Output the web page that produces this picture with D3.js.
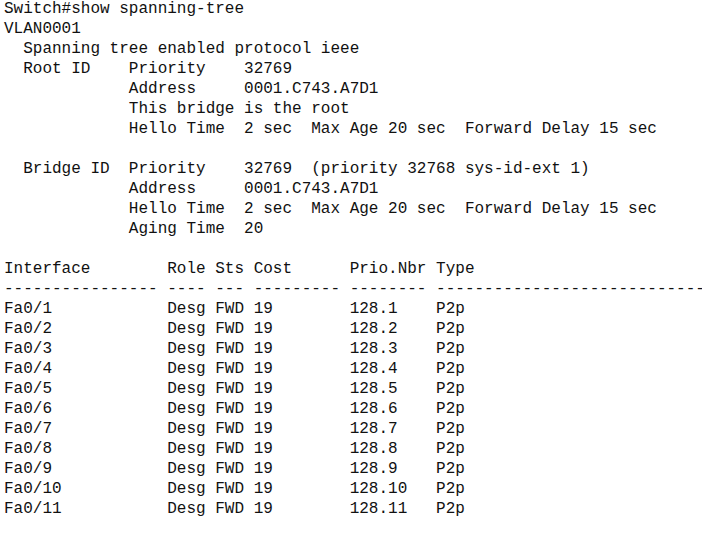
<!DOCTYPE html>
<html lang="en">
<head>
<meta charset="UTF-8">
<title>show spanning-tree</title>
<script src="https://d3js.org/d3.v7.min.js"></script>
<style>
  body { margin: 0; background: #fff; }
  text { font-family: "Liberation Mono", "DejaVu Sans Mono", monospace; font-size: 16px; fill: #111; white-space: pre; }
</style>
</head>
<body>
<script>
  var headerLines = [
    'Switch#show spanning-tree',
    'VLAN0001',
    '  Spanning tree enabled protocol ieee',
    '  Root ID    Priority    32769',
    '             Address     0001.C743.A7D1',
    '             This bridge is the root',
    '             Hello Time  2 sec  Max Age 20 sec  Forward Delay 15 sec',
    '',
    '  Bridge ID  Priority    32769  (priority 32768 sys-id-ext 1)',
    '             Address     0001.C743.A7D1',
    '             Hello Time  2 sec  Max Age 20 sec  Forward Delay 15 sec',
    '             Aging Time  20',
    '',
    'Interface        Role Sts Cost      Prio.Nbr Type',
    '---------------- ---- --- --------- -------- ----------------------------'
  ]
  var interfaces = ['Fa0/1','Fa0/2','Fa0/3','Fa0/4','Fa0/5','Fa0/6','Fa0/7','Fa0/8','Fa0/9','Fa0/10','Fa0/11']
  var roles = Array(11).fill('Desg')
  var states = Array(11).fill('FWD')
  var costs = Array(11).fill('19')
  var prioNbr = ['128.1','128.2','128.3','128.4','128.5','128.6','128.7','128.8','128.9','128.10','128.11']
  var types = Array(11).fill('P2p')

  function pad(s, n){ return (s + ' '.repeat(n)).slice(0, Math.max(n, s.length)) }

  var rows = interfaces.map((d, i) =>
    pad(d, 17) + pad(roles[i], 5) + pad(states[i], 4) + pad(costs[i], 10) + pad(prioNbr[i], 9) + types[i])
  var lines = headerLines.concat(rows)

  var width = 702, height = 538
  var svg = d3.select('body').append('svg').attr('width', width).attr('height', height)

  var y = d3.scaleLinear().domain([0, 1]).range([13, 33])

  svg.selectAll('.line')
    .data(lines)
    .enter()
    .append('text')
    .attr('class', 'line')
    .attr('xml:space', 'preserve')
    .attr('x', 4)
    .attr('y', (d, i) => y(i))
    .text(d => d)
</script>
</body>
</html>
